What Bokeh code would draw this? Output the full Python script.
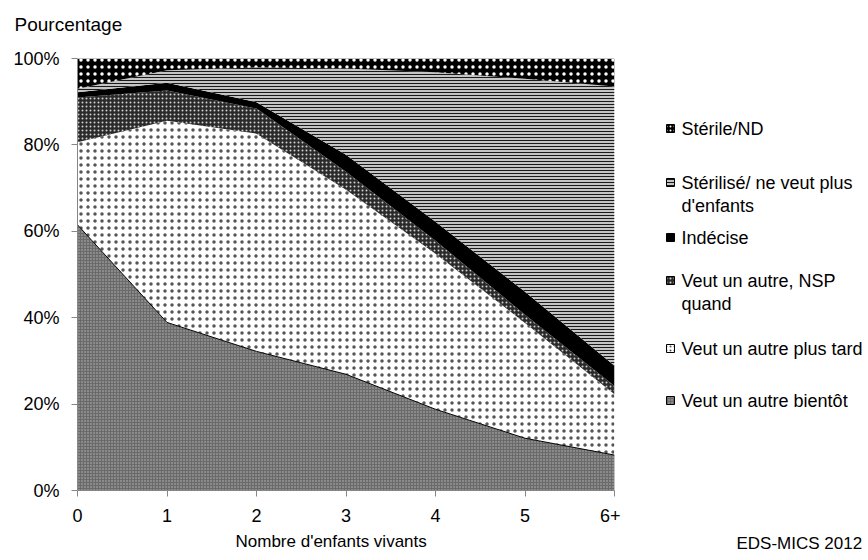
import numpy as np
from bokeh.plotting import figure
from bokeh.layouts import row
from bokeh.models import Range1d, FixedTicker, Title
from bokeh.core.properties import value
from bokeh.embed import file_html
from bokeh.resources import INLINE

# ---------------- data ----------------
categories = ["0", "1", "2", "3", "4", "5", "6+"]
bientot   = [61.5, 38.9, 32.2, 26.9, 18.8, 12.1, 8.2]
plus_tard = [19.1, 46.7, 50.4, 42.7, 36.0, 26.7, 14.1]
nsp_quand = [10.4, 7.0, 5.8, 4.2, 3.0, 1.9, 1.9]
indecise  = [1.2, 1.8, 1.5, 3.9, 4.4, 5.3, 4.7]
sterilise = [0.8, 2.9, 8.0, 20.0, 34.6, 49.3, 64.6]
sterile   = [7.0, 2.7, 2.1, 2.3, 3.2, 4.7, 6.5]

series_names = ["Veut un autre bientôt", "Veut un autre plus tard",
                "Veut un autre, NSP quand", "Indécise",
                "Stérilisé/ ne veut plus d'enfants", "Stérile/ND"]
series_values = [bientot, plus_tard, nsp_quand, indecise, sterilise, sterile]

y_ticks = [0, 20, 40, 60, 80, 100]
y_tick_labels = ["0%", "20%", "40%", "60%", "80%", "100%"]

y_title = "Pourcentage"
x_title = "Nombre d'enfants vivants"
source_note = "EDS-MICS 2012"

# legend text lines (top to bottom)
legend_lines = [["Stérile/ND"],
                ["Stérilisé/ ne veut plus", "d'enfants"],
                ["Indécise"],
                ["Veut un autre, NSP", "quand"],
                ["Veut un autre plus tard"],
                ["Veut un autre bientôt"]]

# ---------------- styles ----------------
FONT = "Liberation Sans"
NBSP = "\u00a0"
styles = [
    dict(fill_color="#8a8a8a", hatch_pattern="+", hatch_color="#6a6a6a", hatch_scale=3, hatch_weight=1),
    dict(fill_color="white", hatch_pattern=".", hatch_color="#555555", hatch_scale=7, hatch_weight=1),
    dict(fill_color="#2a2a2a", hatch_pattern=".", hatch_color="#d0d0d0", hatch_scale=4, hatch_weight=1),
    dict(fill_color="black"),
    dict(fill_color="#c4c4c4", hatch_pattern="-", hatch_color="#1a1a1a", hatch_scale=3, hatch_weight=1),
    dict(fill_color="black", hatch_pattern=".", hatch_color="white", hatch_scale=7, hatch_weight=1),
]

x = np.arange(len(categories))

TOP, BOTTOM = 58, 70

p = figure(width=620, height=560, output_backend="svg", toolbar_location=None,
           x_range=Range1d(0, len(categories) - 1), y_range=Range1d(0, 100),
           min_border_left=77, min_border_right=6, min_border_top=TOP, min_border_bottom=BOTTOM)
p.outline_line_color = None
p.xgrid.visible = False
p.ygrid.visible = False
p.background_fill_color = "white"

bottom = np.zeros(len(categories))
tops = []
for vals, st in zip(series_values, styles):
    top = bottom + np.array(vals)
    p.varea(x=x, y1=bottom, y2=top, **st)
    tops.append(top)
    bottom = top

# thin black boundary above the bottom layer
p.line(x=x, y=tops[0], line_color="black", line_width=1)

for ax in (p.xaxis[0], p.yaxis[0]):
    ax.axis_line_color = "#868686"
    ax.major_tick_line_color = "#868686"
    ax.major_tick_out = 6
    ax.major_tick_in = 0
    ax.minor_tick_line_color = None
    ax.major_label_text_font = FONT
    ax.major_label_text_font_size = "18px"
    ax.major_label_text_color = "black"
    ax.major_label_standoff = 12

p.xaxis.ticker = FixedTicker(ticks=list(x))
p.xaxis.major_label_overrides = {int(i): c for i, c in zip(x, categories)}
p.yaxis.ticker = FixedTicker(ticks=y_ticks)
p.yaxis.major_label_overrides = {t: l for t, l in zip(y_ticks, y_tick_labels)}

p.add_layout(Title(text=x_title, align="left", offset=158, standoff=11,
                   text_font=FONT, text_font_size="17px", text_font_style="normal",
                   text_color="black"), "below")
p.add_layout(Title(text=y_title + "\n" + NBSP, align="left", offset=-63, standoff=6,
                   text_font=FONT, text_font_size="19px", text_font_style="normal",
                   text_color="black"), "above")

# ---------------- legend panel ----------------
q = figure(width=248, height=560, output_backend="svg", toolbar_location=None,
           x_range=Range1d(0, 248), y_range=Range1d(560 - BOTTOM, TOP),
           x_axis_type=None, y_axis_type=None,
           min_border_left=0, min_border_right=0, min_border_top=TOP, min_border_bottom=BOTTOM)
q.outline_line_color = None
q.xgrid.visible = False
q.ygrid.visible = False

legend_y = [128, 182, 237, 280, 348, 400]
line_pitch = 23
order = list(range(len(series_names)))[::-1]
for k, (idx, lines) in enumerate(zip(order, legend_lines)):
    y0 = legend_y[k]
    st = dict(styles[idx])
    if "hatch_scale" in st:
        st["hatch_scale"] = min(st["hatch_scale"], 4)
    q.rect(x=[50], y=[y0], width=8, height=8, line_color="black", line_width=1, **st)
    for j, t in enumerate(lines):
        q.text(x=[61], y=[y0 + j * line_pitch], text=[t], text_font=value(FONT),
               text_font_size="18px", text_baseline="middle", text_color="black")

q.add_layout(Title(text=NBSP + "\n" + NBSP + "\n" + source_note, align="left", offset=116,
                   standoff=6, vertical_align="bottom",
                   text_font=FONT, text_font_size="17px", text_font_style="normal",
                   text_color="black"), "below")

layout = row(p, q, spacing=0)
open("out.html", "w").write(file_html(layout, INLINE))
